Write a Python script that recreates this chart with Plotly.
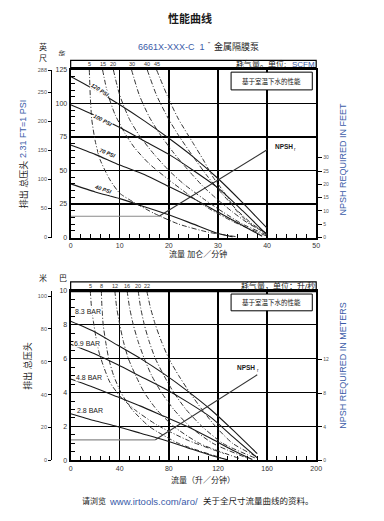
import plotly.graph_objects as go

# page body has an 8px margin on every side; size the figure to fit inside it
OFF = 8
W, H = 384 - 2 * OFF, 521 - 2 * OFF
def PX(x): return (x - OFF) / W
def PY(y): return 1 - (y - OFF) / H

BLUE = "#3a5ba8"
INK = "#1a1a1a"
FONT = "Liberation Sans, Noto Sans CJK SC, sans-serif"

# ---------------- TOP CHART (gpm / psi) ----------------
flow_gpm_ticks = [0, 10, 20, 30, 40, 50]
psi_ticks = [0, 25, 50, 75, 100, 125]
feet_ticks = [0, 50, 100, 150, 200, 250, 288]
npsh_ft_ticks = [0, 5, 10, 15, 20, 25, 30]

head_labels_psi = ["120 PSI", "100 PSI", "70 PSI", "40 PSI"]
h120_gpm = [0, 5, 10, 15, 20, 25, 30, 35, 40]
h120_psi = [120, 110, 99, 87, 74, 60, 44, 26, 7]
h100_gpm = [0, 5, 10, 15, 20, 25, 30, 35, 40]
h100_psi = [99, 91, 82, 72, 62, 50, 37, 20, 2]
h70_gpm = [0, 5, 10, 15, 20, 25, 30, 35, 39]
h70_psi = [69, 62, 54, 47, 38, 29, 19, 9, 1]
h40_gpm = [0, 5, 10, 15, 20, 25, 30, 33]
h40_psi = [40, 34, 29, 23, 17, 10, 3, 0.5]

air_labels_scfm = ["5", "15", "20", "30", "40", "45"]
a5_gpm = [3.8, 4.0, 4.3, 5, 6, 8, 10, 13, 17, 22, 28, 34]
a5_psi = [125, 105, 88, 72, 58, 43, 33, 26, 18, 10, 4, 0.5]
a15_gpm = [6.5, 7.5, 9, 11, 13, 16, 20, 24, 28, 33, 40]
a15_psi = [125, 108, 92, 78, 67, 55, 43, 32, 22, 12, 1]
a20_gpm = [8.7, 10, 12, 14, 17, 20, 23, 27, 31, 35, 40]
a20_psi = [125, 106, 88, 76, 62, 50, 40, 29, 19, 10, 2]
a30_gpm = [12.4, 14, 16, 18, 21, 24, 27, 30, 33, 36, 40]
a30_psi = [125, 106, 90, 78, 63, 50, 38, 28, 19, 11, 3]
a40_gpm = [15.6, 17.5, 20, 22, 25, 28, 31, 34, 37, 40]
a40_psi = [125, 106, 88, 76, 60, 45, 32, 20, 10, 3]
a45_gpm = [17.5, 20, 22, 25, 27, 29, 31, 34, 37, 40]
a45_psi = [125, 103, 88, 70, 58, 45, 35, 19, 9, 3]

npsh_gpm = [0, 18, 40]
npsh_ft = [8, 8, 33]

# ---------------- BOTTOM CHART (lpm / bar) ----------------
flow_lpm_ticks = [0, 40, 80, 120, 160, 200]
bar_ticks = [0, 2, 4, 6, 8, 10]
meter_ticks = [0, 20, 40, 60, 80, 100]
npsh_m_ticks = [0, 4, 8, 12]

head_labels_bar = ["8.3 BAR", "6.9 BAR", "4.8 BAR", "2.8 BAR"]
b83_lpm = [0, 19, 38, 57, 76, 95, 114, 132, 152]
b83_bar = [8.2, 7.6, 6.8, 6.0, 5.1, 4.1, 3.0, 1.8, 0.4]
b69_lpm = [0, 19, 38, 57, 76, 95, 114, 132, 152]
b69_bar = [6.85, 6.3, 5.65, 4.95, 4.25, 3.45, 2.55, 1.4, 0.15]
b48_lpm = [0, 19, 38, 57, 76, 95, 114, 132, 148]
b48_bar = [4.8, 4.3, 3.75, 3.2, 2.6, 2.0, 1.3, 0.6, 0.05]
b28_lpm = [0, 19, 38, 57, 76, 95, 114, 128]
b28_bar = [2.75, 2.35, 2.0, 1.6, 1.2, 0.75, 0.3, 0.03]

air_labels_lps = ["5", "8", "12", "16", "20", "22"]
l5_lpm = [16, 17, 18.5, 20.5, 23, 27, 32, 40, 52, 70, 95, 125]
l5_bar = [10, 9, 8.2, 7.3, 6.4, 5.5, 4.6, 3.8, 3.0, 2.1, 1.2, 0.4]
l8_lpm = [25, 25.5, 26.5, 28.5, 31, 35, 41, 50, 64, 88, 125]
l8_bar = [10, 9, 8, 7, 6, 5, 4, 3, 2, 1.0, 0.1]
l12_lpm = [36, 37.5, 40, 43, 47, 53, 60, 70, 84, 105, 138]
l12_bar = [10, 9, 8, 7, 6, 5, 4, 3, 2, 1.0, 0.1]
l16_lpm = [46, 48, 51, 55, 60, 66, 74, 84, 97, 116, 145]
l16_bar = [10, 9, 8, 7, 6, 5, 4, 3, 2, 1.0, 0.1]
l20_lpm = [55, 57, 60, 64, 69, 76, 84, 94, 107, 124, 150]
l20_bar = [10, 9, 8, 7, 6, 5, 4, 3, 2, 1.0, 0.15]
l22_lpm = [62, 65, 69, 74, 80, 88, 97, 107, 118, 132, 152]
l22_bar = [10, 9, 8, 7, 6, 5, 4, 3, 2, 1.0, 0.2]

npsh_lpm = [0, 69, 152]
npsh_m = [2.45, 2.45, 10.2]

# ---------------- FIGURE ----------------
fig = go.Figure()
DASH = "5px,2px,1px,2px"

def line(x, y, xa, ya, dash="solid", color=INK, width=1.1):
    fig.add_trace(go.Scatter(x=x, y=y, xaxis=xa, yaxis=ya, mode="lines",
                             line=dict(color=color, width=width, dash=dash, shape="spline", smoothing=0.6),
                             hoverinfo="skip", showlegend=False))

def dummy(xa, ya):
    fig.add_trace(go.Scatter(x=[0], y=[0], xaxis=xa, yaxis=ya, mode="markers",
                             marker=dict(opacity=0), hoverinfo="skip", showlegend=False))

top_air = [(a5_gpm, a5_psi), (a15_gpm, a15_psi), (a20_gpm, a20_psi),
           (a30_gpm, a30_psi), (a40_gpm, a40_psi), (a45_gpm, a45_psi)]
for gx, gy in top_air:
    line(gx, gy, "x", "y", dash=DASH, color="#333", width=1)
top_heads = [(h120_gpm, h120_psi), (h100_gpm, h100_psi), (h70_gpm, h70_psi), (h40_gpm, h40_psi)]
for gx, gy in top_heads:
    line(gx, gy, "x", "y", width=1.1)
line(npsh_gpm[:2], npsh_ft[:2], "x", "y3", color="#8a8a8a", width=1.2)
line(npsh_gpm[1:], npsh_ft[1:], "x", "y3", color="#333", width=1.1)
dummy("x", "y2")

bot_air = [(l5_lpm, l5_bar), (l8_lpm, l8_bar), (l12_lpm, l12_bar),
           (l16_lpm, l16_bar), (l20_lpm, l20_bar), (l22_lpm, l22_bar)]
for gx, gy in bot_air:
    line(gx, gy, "x2", "y4", dash=DASH, color="#333", width=1)
bot_heads = [(b83_lpm, b83_bar), (b69_lpm, b69_bar), (b48_lpm, b48_bar), (b28_lpm, b28_bar)]
for gx, gy in bot_heads:
    line(gx, gy, "x2", "y4", width=1.1)
line(npsh_lpm[:2], npsh_m[:2], "x2", "y6", color="#8a8a8a", width=1.2)
line(npsh_lpm[1:], npsh_m[1:], "x2", "y6", color="#333", width=1.1)
dummy("x2", "y5")

XD = [PX(70), PX(321)]
TOPD = [PY(236.7), PY(66.7)]
BOTD = [PY(462.7), PY(290.7)]

def main_x(dom_anchor, ticks, rng, minor_dtick):
    return dict(domain=XD, anchor=dom_anchor, range=rng, tickvals=ticks,
                showgrid=True, gridcolor="black", gridwidth=1.4, zeroline=False,
                showline=True, linecolor="black", linewidth=2, mirror=True,
                ticks="inside", ticklen=4, tickcolor="black",
                minor=dict(ticks="inside", ticklen=4, dtick=minor_dtick, tickcolor="black", showgrid=False),
                tickfont=dict(size=7, color="#333"), fixedrange=True)

def main_y(dom, anchor, ticks, rng, minor_dtick):
    return dict(domain=dom, anchor=anchor, range=rng, tickvals=ticks,
                showgrid=True, gridcolor="black", gridwidth=1.4, zeroline=False,
                showline=True, linecolor="black", linewidth=2, mirror=True,
                ticks="inside", ticklen=4, tickcolor="black",
                minor=dict(ticks="inside", ticklen=4, dtick=minor_dtick, tickcolor="black", showgrid=False),
                tickfont=dict(size=7, color="#333"), fixedrange=True)

def outer_y(over, ticks, rng):
    return dict(overlaying=over, anchor="free", position=PX(50), side="left",
                range=rng, tickvals=ticks, showgrid=False, zeroline=False,
                showline=True, linecolor="black", linewidth=1.3,
                ticks="outside", ticklen=3, tickcolor="black",
                tickfont=dict(size=5.5, color="#555"), fixedrange=True)

def npsh_y(over, anchor, ticks, rng):
    return dict(overlaying=over, anchor=anchor, side="right", range=rng,
                tickvals=ticks, showgrid=False, zeroline=False, showline=False,
                ticks="outside", ticklen=5, tickcolor="black",
                tickfont=dict(size=5, color="#555"), fixedrange=True)

fig.update_layout(
    width=W, height=H, margin=dict(l=0, r=0, t=0, b=0),
    paper_bgcolor="white", plot_bgcolor="white",
    font=dict(family=FONT, color=INK),
    xaxis=main_x("y", flow_gpm_ticks, [0, 50], 2),
    yaxis=main_y(TOPD, "x", psi_ticks, [0, 125], 5),
    yaxis2=outer_y("y", feet_ticks, [0, 288.75]),
    yaxis3=npsh_y("y", "x", npsh_ft_ticks, [0, 63]),
    xaxis2=main_x("y4", flow_lpm_ticks, [0, 200], 8),
    yaxis4=main_y(BOTD, "x2", bar_ticks, [0, 10], 0.5),
    yaxis5=outer_y("y4", meter_ticks, [0, 103.2]),
    yaxis6=npsh_y("y4", "x2", npsh_m_ticks, [0, 20.2]),
    hovermode=False,
)

shapes = []
anns = []

def txt(x, y, s, size=8, color=INK, angle=0, xanchor="center", yanchor="middle", xref="paper", yref="paper",
        bg=None, bold=False):
    d = dict(x=x, y=y, xref=xref, yref=yref, text=s, showarrow=False,
             font=dict(size=size, color=color, family=FONT, weight="bold" if bold else "normal"),
             textangle=angle, xanchor=xanchor, yanchor=yanchor, borderpad=0)
    if bg:
        d["bgcolor"] = bg
    anns.append(d)

# titles
txt(PX(192), PY(15), "性能曲线", size=11, bold=True)
txt(PX(208.5), PY(43), "6661X-XXX-C  1", size=9, color=BLUE, xanchor="right")
txt(PX(211), PY(40), "\"", size=6, color=INK)
txt(PX(216), PY(43), "金属隔膜泵", size=9, xanchor="left")

# top left labels
txt(PX(42), PY(43), "英", size=8)
txt(PX(42), PY(55), "尺", size=8)
txt(PX(62), PY(50), "磅", size=6, angle=-90)
txt(PX(22), PY(183), "排出 总压头", size=9, angle=-90)
txt(PX(22), PY(127), "2.31 FT=1 PSI", size=9, color=BLUE, angle=-90)

# top air band
shapes.append(dict(type="rect", xref="paper", yref="paper", x0=XD[0], x1=XD[1], y0=PY(64.5), y1=PY(57),
                   line=dict(color="black", width=1.2)))
for lab, (gx, gy) in zip(air_labels_scfm, top_air):
    txt(gx[0], PY(60.8), lab, size=5.5, xref="x", color="#333")
txt(PX(291), PY(60.5), "耗气量。单位:", size=8, xanchor="right")
txt(PX(321), PY(61), "SCFM", size=8, color=BLUE, xanchor="right")

# top note box
shapes.append(dict(type="rect", xref="paper", yref="paper", x0=PX(234), x1=PX(317), y0=PY(87), y1=PY(69),
                   line=dict(color="black", width=1), fillcolor="white"))
txt(PX(275.5), PY(78), "基于室温下水的性能", size=6.5)

# top head labels
top_lab_pos = [(6, 110, 33), (6.5, 88, 28), (7.5, 63, 22), (6.5, 36, 18)]
for lab, (lx, ly, ang) in zip(head_labels_psi, top_lab_pos):
    txt(lx, ly, f"<i>{lab}</i>", size=5.5, xref="x", yref="y", angle=ang, bg="white", bold=True)

txt(41.4, 68, "NPSH", size=6.5, xref="x", yref="y", xanchor="left", bold=True)
txt(45.2, 66, "r", size=4.5, xref="x", yref="y", xanchor="left")
txt(PX(348), PY(157), "NPSH REQUIRED IN FEET", size=9, color=BLUE, angle=-90)
txt(PX(200), PY(253), "流量 加仑／分钟", size=8)

# bottom labels
txt(PX(42), PY(278), "米", size=8)
txt(PX(62), PY(278), "巴", size=8)
txt(PX(25), PY(367), "排出 总压头", size=9, angle=-90)

shapes.append(dict(type="rect", xref="paper", yref="paper", x0=XD[0], x1=XD[1], y0=PY(290), y1=PY(281.7),
                   line=dict(color="black", width=1.2)))
shapes.append(dict(type="line", xref="paper", yref="paper", x0=XD[0], x1=XD[1], y0=PY(290.7), y1=PY(290.7),
                   line=dict(color="black", width=3)))
for lab, (gx, gy) in zip(air_labels_lps, bot_air):
    txt(gx[0], PY(285.8), lab, size=5.5, xref="x2", color="#333")
txt(PX(321), PY(285.5), "耗气量，单位：升/秒", size=8, xanchor="right")

shapes.append(dict(type="rect", xref="paper", yref="paper", x0=PX(234), x1=PX(317), y0=PY(311), y1=PY(294),
                   line=dict(color="black", width=1), fillcolor="white"))
txt(PX(275.5), PY(302.5), "基于室温下水的性能", size=6.5)

bot_lab_pos = [(14, 8.75), (13, 6.9), (15, 4.9), (16, 2.95)]
for lab, (lx, ly) in zip(head_labels_bar, bot_lab_pos):
    txt(lx, ly, lab, size=7, xref="x2", yref="y4", bg="white")

txt(143, 5.45, "NPSH", size=6.5, xref="x2", yref="y4", bold=True)
txt(150.6, 5.3, "r", size=4.5, xref="x2", yref="y4", xanchor="left")
txt(PX(348), PY(366), "NPSH REQUIRED IN METERS", size=9, color=BLUE, angle=-90)
txt(PX(205), PY(483), "流量（升／分钟）", size=8)

txt(PX(107.5), PY(504), "请浏览", size=8, xanchor="right")
txt(PX(108), PY(504), "www.irtools.com/aro/", size=9.5, color=BLUE, xanchor="left")
txt(PX(204), PY(504), "关于全尺寸流量曲线的资料。", size=8.5, xanchor="left")

fig.update_layout(shapes=shapes, annotations=anns)
fig.write_html("out.html", config={"displayModeBar": False, "staticPlot": True})
